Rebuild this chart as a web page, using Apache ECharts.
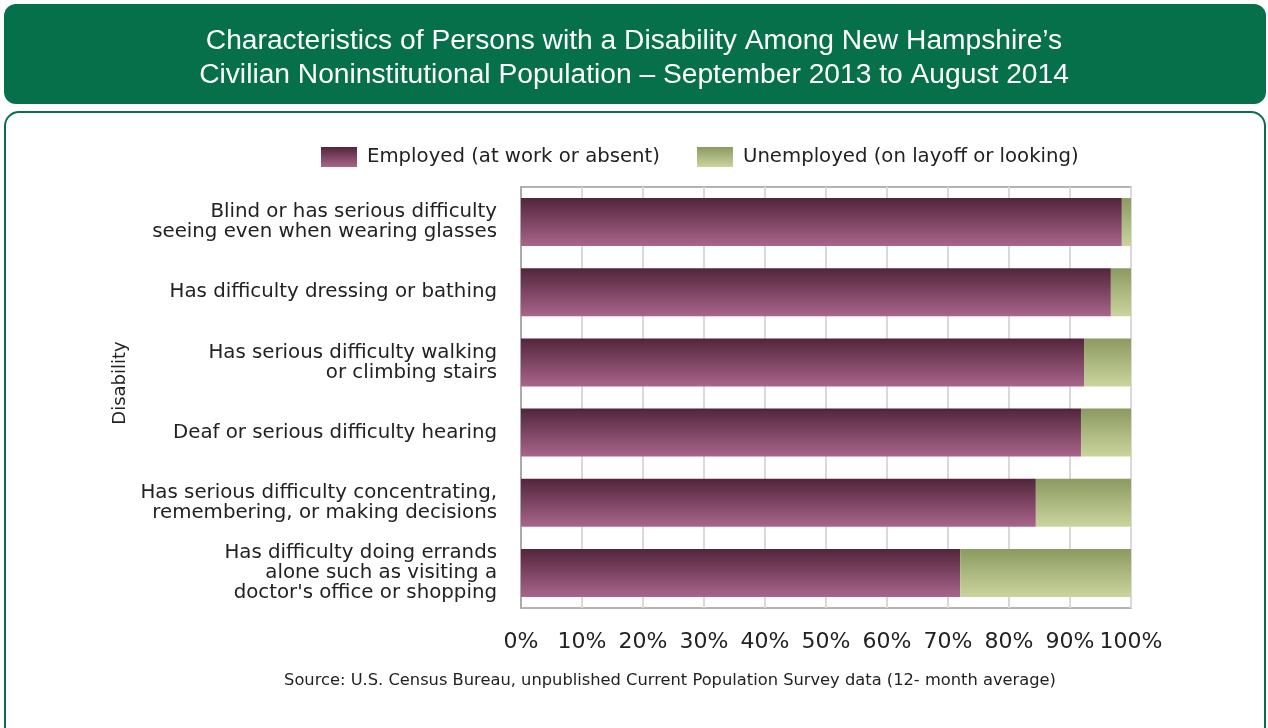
<!DOCTYPE html>
<html><head><meta charset="utf-8">
<script src="https://cdn.jsdelivr.net/npm/echarts@6/dist/echarts.min.js"></script>
<style>html,body{margin:0;padding:0;background:#fff}#c{width:1268px;height:728px}</style>
</head><body><div id="c"></div>
<script>
const categories = [
  "Blind or has serious difficulty\nseeing even when wearing glasses",
  "Has difficulty dressing or bathing",
  "Has serious difficulty walking\nor climbing stairs",
  "Deaf or serious difficulty hearing",
  "Has serious difficulty concentrating,\nremembering, or making decisions",
  "Has difficulty doing errands\nalone such as visiting a\ndoctor's office or shopping"
];
const employed = [98.5, 96.7, 92.3, 91.8, 84.4, 72.0];
const unemployed = [1.5, 3.3, 7.7, 8.2, 15.6, 28.0];
const seriesNames = ["Employed (at work or absent)", "Unemployed (on layoff or looking)"];
const titleText = "Characteristics of Persons with a Disability Among New Hampshire\u2019s\nCivilian Noninstitutional Population \u2013 September 2013 to August 2014";
const sourceText = "Source: U.S. Census Bureau, unpublished Current Population Survey data (12- month average)";
const axisName = "Disability";

const purple = new echarts.graphic.LinearGradient(0,0,0,1,[{offset:0,color:'#52253b'},{offset:1,color:'#a9658b'}]);
const green = new echarts.graphic.LinearGradient(0,0,0,1,[{offset:0,color:'#8b9a60'},{offset:1,color:'#cad59d'}]);
const font = '"DejaVu Sans", sans-serif';

const chart = echarts.init(document.getElementById('c'));
chart.setOption({
  animation: false,
  textStyle: {fontFamily: font},
  graphic: [
    {type:'rect', shape:{x:4,y:4,width:1262,height:100,r:12}, style:{fill:'#06704a'}, z:0},
    {type:'rect', shape:{x:5,y:112,width:1260,height:640,r:14}, style:{fill:'none',stroke:'#06704a',lineWidth:2}, z:0},
    {type:'text', left:'center', top:24, style:{text:titleText, fill:'#fff', font:'28.2px "Liberation Sans", Arial, sans-serif', textAlign:'center', lineHeight:34}, z:5},
    {type:'text', x:670, y:681, style:{text:sourceText, fill:'#222', font:'16.3px ' + font, textAlign:'center', textVerticalAlign:'middle'}, z:5},
    {type:'text', x:120, y:383, rotation:Math.PI/2, style:{text:axisName, fill:'#222', font:'18px ' + font, textAlign:'center', textVerticalAlign:'middle'}, z:5}
  ],
  legend: {
    top: 142, left: 316, icon: 'rect',
    itemWidth: 36, itemHeight: 20, itemGap: 37,
    textStyle: {fontSize: 19.7, color: '#222', fontFamily: font, padding: [0,0,0,5]},
    data: seriesNames
  },
  grid: {left: 521, right: 137, top: 187, bottom: 120, show: true, borderColor: '#9a9a9a', borderWidth: 1.5},
  xAxis: {
    type: 'value', min: 0, max: 100, interval: 10,
    axisLabel: {formatter: '{value}%', fontSize: 22, color: '#222', margin: 23, fontFamily: font},
    splitLine: {lineStyle: {color: '#d9d9d9', width: 2}},
    axisLine: {show: false}, axisTick: {show: false}
  },
  yAxis: {
    type: 'category', inverse: true, data: categories,
    axisLabel: {fontSize: 19.8, color: '#222', margin: 24, lineHeight: 20, fontFamily: font, align: 'right'},
    axisLine: {show: true, lineStyle: {color: '#9a9a9a', width: 1.5}},
    axisTick: {show: false}
  },
  series: [
    {name: seriesNames[0], type: 'bar', stack: 's', data: employed, barWidth: 48, itemStyle: {color: purple}},
    {name: seriesNames[1], type: 'bar', stack: 's', data: unemployed, barWidth: 48, itemStyle: {color: green}}
  ]
});
</script></body></html>
